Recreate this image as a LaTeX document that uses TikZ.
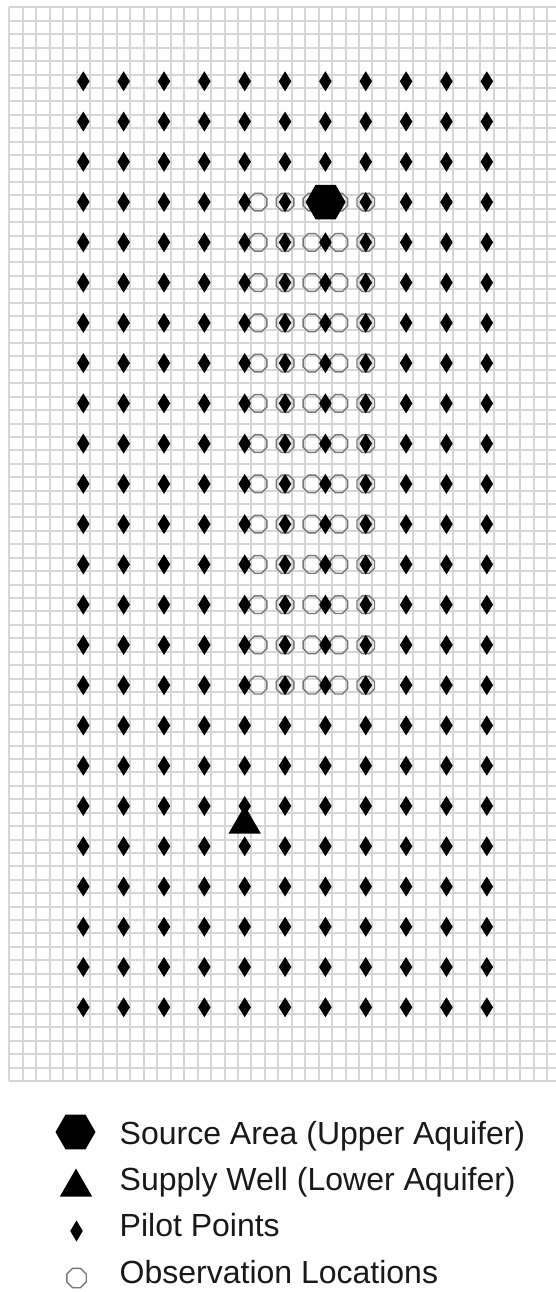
\documentclass[tikz,border=0pt]{standalone}
\usepackage{fontspec}
\setmainfont{Liberation Sans}
\usetikzlibrary{shapes.geometric}
\definecolor{gridgray}{RGB}{214,214,214}
\definecolor{obsgray}{RGB}{120,120,120}
\definecolor{legtext}{RGB}{25,25,25}
\tikzset{
  gridline/.style={draw=gridgray, line width=2pt},
  pilot/.style={shape=diamond, fill=black, draw=none, inner sep=0pt, outer sep=0pt, minimum width=12.5pt, minimum height=20pt},
  obsloc/.style={shape=regular polygon, regular polygon sides=8, draw=obsgray, line width=1.4pt, fill=none, inner sep=0pt, minimum size=19pt},
  source/.style={shape=regular polygon, regular polygon sides=6, fill=black, draw=none, inner sep=0pt, minimum size=40pt},
  well/.style={shape=regular polygon, regular polygon sides=3, fill=black, draw=none, inner sep=0pt, minimum size=37.5pt},
  legendtext/.style={anchor=base west, inner sep=0pt, text=legtext, font=\fontsize{32}{36}\selectfont}
}
\begin{document}
\begin{tikzpicture}[x=1pt, y=-1pt]
\useasboundingbox (0,0) rectangle (556,1292);
\fill[white] (0,0) rectangle (556,1292);
% grid
\foreach \k in {0,...,80} {
  \draw[gridline] (9.3, 7.5+\k*13.42) -- (556, 7.5+\k*13.42);
}
\foreach \k in {0,...,40} {
  \draw[gridline] (9.3+\k*13.45, 7.5) -- (9.3+\k*13.45, 1081.1);
}
% observation locations
\foreach \c [count=\ci] in {18,20,22,24,26} {
  \foreach \j in {3,...,15} {
    \node[obsloc] (obs-\ci-\j) at ({9.3+(\c+0.5)*13.45}, {81.3+\j*40.26}) {};
  }
}
% pilot points
\foreach \i in {0,...,10} {
  \foreach \j in {0,...,23} {
    \node[pilot] (pp-\i-\j) at ({83.3+\i*40.35}, {81.3+\j*40.26}) {};
  }
}
% source area and supply well
\node[source] (src) at (325.6, 202.1) {};
\node[well] (wellnode) at (244.7, 824.3) {};
% legend
\node[source] (legsrc) at (75.5, 1132) {};
\node[well] (legwell) at (76, 1187.3) {};
\node[pilot, minimum width=12.5pt, minimum height=21pt] (legpp) at (76.5, 1231) {};
\node[obsloc, minimum size=21pt] (legobs) at (76.5, 1278) {};
\node[legendtext] (t1) at (119.5, 1144) {Source Area (Upper Aquifer)};
\node[legendtext] (t2) at (119.5, 1190) {Supply Well (Lower Aquifer)};
\node[legendtext] (t3) at (119.5, 1236.7) {Pilot Points};
\node[legendtext] (t4) at (119.5, 1283) {Observation Locations};
\end{tikzpicture}
\end{document}
